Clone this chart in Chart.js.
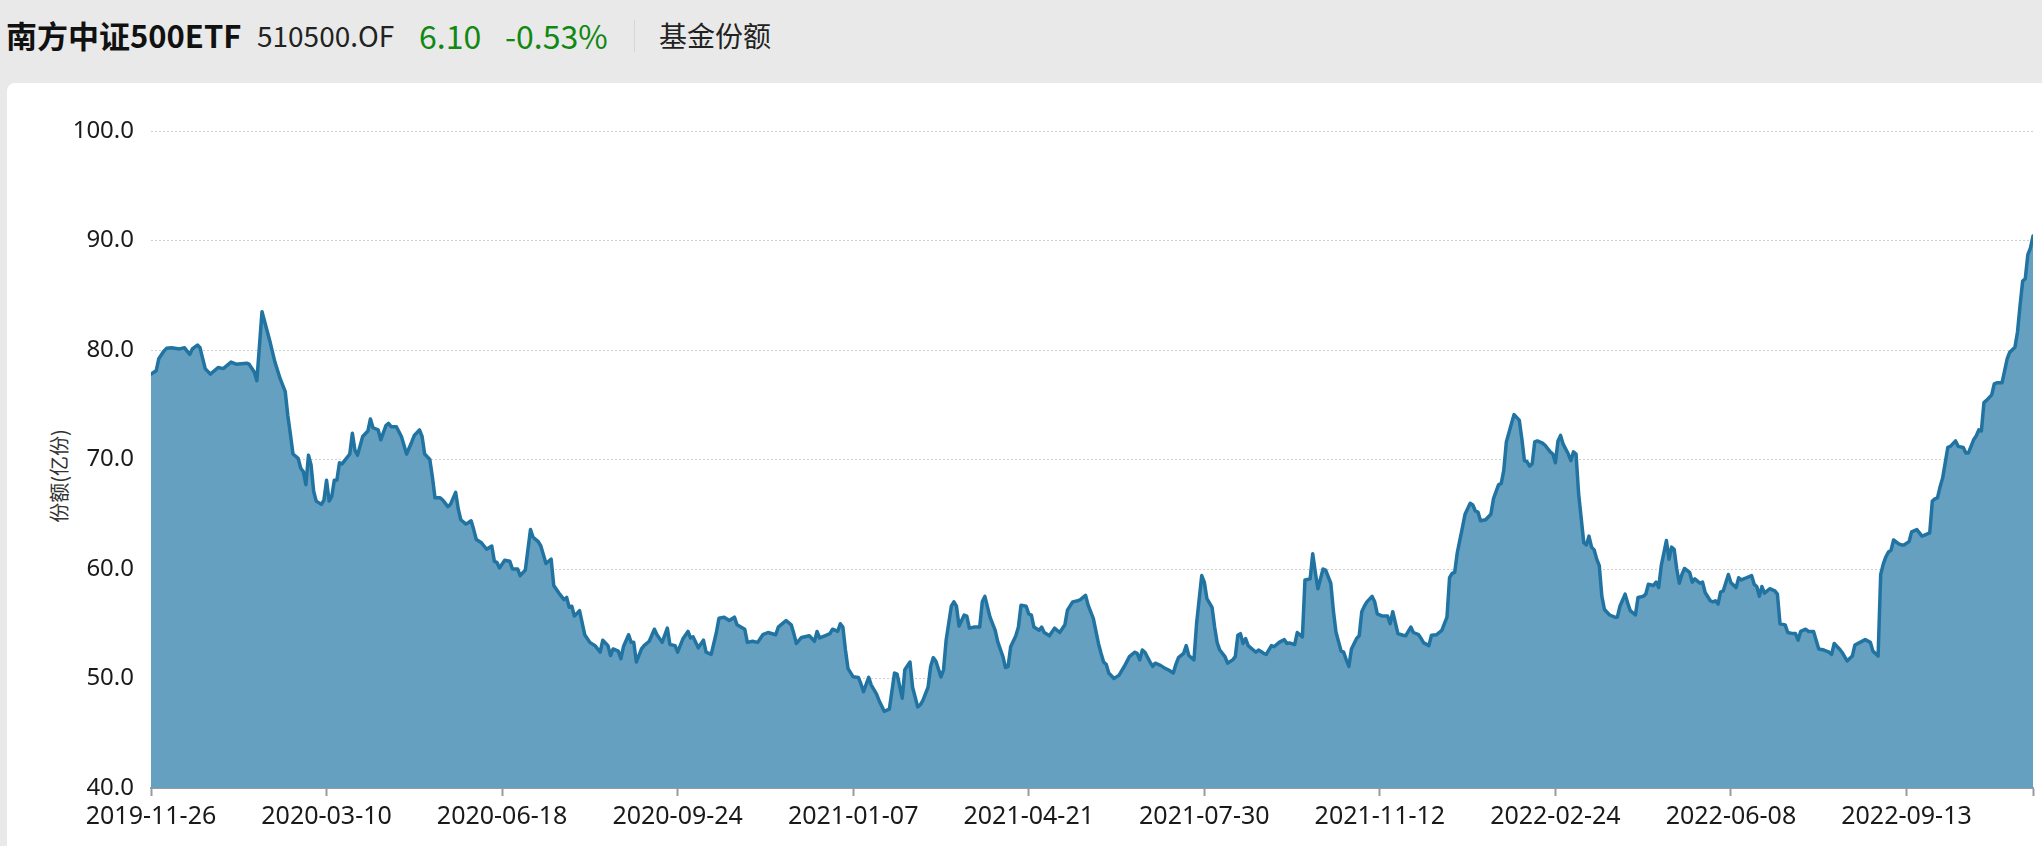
<!DOCTYPE html>
<html>
<head>
<meta charset="utf-8">
<title>南方中证500ETF 基金份额</title>
<script src="https://cdn.jsdelivr.net/npm/chart.js@4"></script>
<style>
  html, body { margin: 0; padding: 0; }
  body { width: 2042px; height: 846px; background: #e9e9e9; position: relative; overflow: hidden;
         font-family: "Noto Sans CJK SC", "Noto Sans", sans-serif; }
  #hdr span { position: absolute; top: 0; height: 70px; line-height: 70px; white-space: nowrap; }
  .name { left: 6px; font-size: 31px; font-weight: bold; color: #111; }
  .code { left: 257px; font-size: 28px; color: #222; }
  .price { left: 419px; font-size: 32px; color: #118811; }
  .chg { left: 505px; font-size: 32px; color: #118811; }
  .sep { left: 634px; top: 20px !important; height: 32px !important; width: 1px; background: #d6d6d6; }
  .tab { left: 659px; font-size: 28px; color: #222; }
  #card { position: absolute; left: 7px; top: 83px; right: 0; bottom: 0; background: #fff; border-top-left-radius: 8px; }
  #ytitle { position: absolute; left: 58px; top: 476px; transform: translate(-50%, -50%) rotate(-90deg);
            font-size: 20px; color: #333; white-space: nowrap; }
  #chart { position: absolute; left: 0; top: 0; }
</style>
</head>
<body>
<div id="hdr">
  <span class="name">南方中证500ETF</span>
  <span class="code">510500.OF</span>
  <span class="price">6.10</span>
  <span class="chg">-0.53%</span>
  <span class="sep"></span>
  <span class="tab">基金份额</span>
</div>
<div id="card"></div>
<div id="ytitle">份额(亿份)</div>
<canvas id="chart" width="2042" height="846"></canvas>
<script>
// labelled dates on the x axis, one every 68 trading days
const tickLabels = ['2019-11-26', '2020-03-10', '2020-06-18', '2020-09-24', '2021-01-07', '2021-04-21',
                    '2021-07-30', '2021-11-12', '2022-02-24', '2022-06-08', '2022-09-13'];
const tickStep = 68;
const lastDay = 729; // 2022-11-28

// trading day (counted from 2019-11-26) of each reading
const dayIndex = [
  0, 2, 3, 5, 6, 8, 11, 13, 15, 16, 18, 19, 21, 23, 26, 28, 31, 33, 37, 38, 40, 41, 43, 46, 48, 50, 52, 53, 54, 55,
  57, 58, 59, 60, 61, 62, 63, 64, 66, 67, 68, 69, 70, 71, 72, 73, 74, 75, 77, 78, 79, 80, 82, 84, 85, 86, 88, 89, 91, 92,
  93, 95, 97, 99, 101, 102, 104, 105, 106, 108, 109, 110, 112, 113, 115, 116, 118, 119, 120, 122, 124, 125, 126, 128,
  130, 132, 133, 134, 135, 137, 139, 140, 142, 143, 145, 147, 148, 150, 151, 153, 155, 156, 158, 160, 161, 162, 163, 164,
  166, 168, 170, 172, 174, 175, 177, 178, 179, 181, 182, 183, 185, 186, 187, 188, 190, 191, 193, 195, 196, 198, 200, 201,
  203, 204, 206, 208, 209, 210, 212, 214, 215, 217, 219, 220, 222, 224, 226, 227, 230, 231, 233, 235, 237, 239, 242, 243,
  244, 246, 248, 249, 250, 252, 255, 257, 258, 259, 261, 263, 264, 266, 267, 268, 269, 270, 272, 274, 275, 276, 278, 279,
  281, 282, 284, 286, 288, 289, 291, 292, 294, 295, 297, 298, 299, 301, 302, 303, 304, 306, 307, 308, 310, 311, 312, 313,
  315, 316, 317, 319, 321, 322, 323, 325, 327, 328, 330, 331, 332, 333, 335, 336, 337, 339, 340, 341, 342, 344, 345, 346,
  348, 350, 352, 354, 355, 357, 359, 360, 362, 363, 365, 367, 368, 369, 370, 371, 373, 374, 375, 377, 379, 381, 382, 383,
  384, 385, 387, 388, 389, 391, 393, 394, 396, 397, 398, 400, 401, 402, 404, 405, 407, 408, 409, 411, 412, 413, 414, 416,
  417, 419, 420, 421, 422, 423, 424, 425, 426, 428, 429, 431, 432, 434, 435, 437, 439, 440, 441, 443, 444, 446, 447, 449,
  450, 451, 452, 454, 455, 457, 458, 459, 461, 462, 463, 464, 465, 467, 468, 469, 470, 471, 473, 474, 475, 477, 479, 480,
  481, 483, 485, 486, 488, 489, 491, 492, 493, 495, 496, 498, 499, 500, 502, 503, 504, 505, 506, 508, 509, 511, 512, 513,
  514, 515, 517, 519, 520, 522, 523, 524, 525, 527, 528, 530, 531, 532, 533, 534, 535, 536, 537, 539, 540, 542, 543, 544,
  545, 546, 547, 549, 550, 551, 552, 553, 555, 556, 557, 558, 559, 560, 561, 562, 563, 565, 567, 568, 569, 571, 572, 573,
  575, 576, 578, 579, 580, 582, 583, 584, 585, 587, 588, 589, 590, 591, 592, 593, 594, 596, 597, 598, 600, 601, 602, 604,
  605, 606, 607, 608, 609, 611, 612, 614, 615, 616, 618, 620, 621, 622, 623, 624, 625, 627, 629, 630, 631, 633, 634, 636,
  637, 638, 639, 641, 642, 644, 645, 646, 648, 650, 651, 652, 654, 655, 657, 659, 660, 662, 664, 666, 667, 669, 670, 671,
  672, 673, 674, 675, 677, 678, 679, 681, 682, 684, 686, 687, 689, 690, 691, 692, 693, 694, 695, 696, 697, 699, 700, 702,
  703, 704, 706, 707, 708, 709, 710, 711, 713, 714, 715, 717, 718, 719, 720, 722, 723, 724, 725, 726, 727, 728, 729
];

// fund shares, 亿份
const shares = [
  77.8, 78.1, 79.2, 79.9, 80.15, 80.2, 80.1, 80.2, 79.6, 80.1, 80.45, 80.2, 78.3, 77.8, 78.4, 78.3, 78.9, 78.7, 78.8, 78.7,
  78.0, 77.2, 83.5, 80.85, 78.9, 77.4, 76.2, 74.0, 72.3, 70.5,
  70.1, 69.2, 68.9, 67.7, 70.4, 69.5, 67.1, 66.2, 65.9, 66.3, 68.1, 66.2, 66.6, 68.1, 68.1, 69.7, 69.6, 69.9, 70.5, 72.4,
  70.85, 70.4, 72.1, 72.6, 73.7, 72.9, 72.7, 71.8, 73.1, 73.3,
  73.0, 73.0, 72.1, 70.5, 71.6, 72.2, 72.7, 72.1, 70.5, 70.0, 68.4, 66.5, 66.5, 66.3, 65.7, 65.9, 67.0, 65.5, 64.5, 64.1,
  64.4, 63.6, 62.7, 62.4,
  61.8, 62.1, 60.7, 60.6, 60.1, 60.8, 60.7, 60.0, 60.0, 59.4, 59.9, 63.6, 62.9, 62.5, 62.1, 60.5, 60.9, 58.5, 57.8, 57.2,
  57.4, 56.5, 56.6, 55.7,
  56.2, 54.0, 53.3, 53.0, 52.4, 53.5, 53.0, 52.1, 52.7, 52.5, 51.8, 52.9, 54.0, 53.3, 53.3, 51.5, 52.7, 53.0, 53.4, 54.5,
  54.0, 53.3, 54.6, 53.1,
  53.0, 52.4, 53.6, 54.3, 53.7, 53.8, 52.8, 53.5, 52.4, 52.2, 54.2, 55.5, 55.6, 55.3, 55.6, 54.9, 54.5, 53.3, 53.4, 53.3,
  54.0, 54.2, 54.0, 54.7,
  54.9, 55.3, 54.9, 54.1, 53.2, 53.75, 53.9, 53.4, 54.3, 53.7, 53.9, 54.1, 54.5, 54.3, 55.0, 54.7, 52.6, 50.9, 50.15, 50.1,
  49.5, 48.8, 50.1, 49.4,
  48.6, 48.0, 47.0, 47.2, 50.5, 50.4, 48.2, 50.8, 51.5, 49.2, 47.4, 47.6, 48.0, 49.2, 51.1, 51.9, 51.6, 50.15, 50.8, 53.5,
  56.6, 57.0, 56.6, 54.8,
  55.8, 55.7, 54.6, 54.7, 54.7, 57.0, 57.5, 55.6, 54.4, 53.35, 52.0, 51.0, 51.1, 52.9, 53.9, 54.7, 56.7, 56.6, 55.9, 55.8,
  54.7, 54.4, 54.7, 54.2,
  53.9, 54.6, 54.2, 54.9, 56.25, 57.0, 57.1, 57.2, 57.6, 56.7, 55.5, 53.2, 52.3, 51.5, 51.3, 50.5, 50.0, 50.15, 50.3, 51.1,
  52.0, 52.4, 52.3, 51.7,
  52.6, 52.4, 51.5, 51.1, 51.4, 51.2, 50.9, 50.8, 50.5, 51.3, 51.9, 52.3, 53.0, 52.1, 51.7, 55.0, 59.4, 58.8, 57.3, 56.5,
  54.7, 53.25, 52.6, 52.0,
  51.4, 51.7, 52.0, 53.95, 54.1, 53.2, 53.65, 53.0, 52.8, 52.4, 52.6, 52.3, 52.2, 53.0, 52.9, 53.3, 53.55, 53.2, 53.25, 53.1,
  54.2, 53.8, 59.0, 59.1,
  61.4, 59.7, 58.2, 60.0, 59.9, 58.7, 56.2, 54.25, 52.5, 52.4, 51.7, 51.1, 52.7, 53.65, 53.9, 56.1, 56.6, 57.0, 57.5, 57.0,
  55.9, 55.7, 55.7, 55.0,
  56.1, 54.1, 53.95, 53.9, 54.7, 54.2, 54.0, 53.65, 53.25, 53.0, 53.95, 54.0, 54.2, 54.4, 55.6, 59.2, 59.6, 59.7, 61.5, 63.8,
  65.0, 66.0, 65.85, 65.3,
  65.2, 64.4, 64.5, 65.0, 66.4, 67.7, 67.8, 69.0, 71.6, 73.3, 74.1, 73.6, 71.9, 69.9, 69.8, 69.4, 69.6, 71.6, 71.7, 71.5,
  71.3, 70.7, 70.5, 69.7,
  71.7, 72.2, 71.4, 70.5, 69.9, 70.7, 70.5, 66.85, 62.4, 62.2, 63.0, 62.0, 61.75, 60.9, 60.3, 57.5, 56.3, 55.8, 55.6, 55.6,
  56.6, 57.7, 56.9, 56.2,
  55.8, 57.4, 57.5, 57.7, 58.6, 58.5, 58.8, 58.3, 60.3, 62.6, 60.9, 62.0, 61.8, 60.0, 58.7, 59.5, 60.05, 59.7, 58.8, 59.1,
  58.7, 58.8, 57.85, 57.1,
  57.0, 57.1, 56.8, 57.9, 58.0, 59.5, 58.75, 58.3, 59.2, 59.0, 59.2, 59.4, 58.6, 58.4, 57.5, 58.4, 57.8, 58.2, 58.0, 57.7,
  55.0, 54.9, 54.2, 54.1,
  54.1, 53.5, 54.3, 54.5, 54.3, 54.3, 53.5, 52.7, 52.6, 52.4, 52.2, 53.2, 52.7, 52.4, 51.6, 52.05, 53.05, 53.3, 53.55, 53.3,
  52.5, 52.05, 59.5, 60.45,
  61.1, 61.55, 61.7, 62.65, 62.3, 62.2, 62.2, 62.5, 63.4, 63.6, 63.0, 63.1, 63.3, 66.2, 66.4, 66.5, 67.5, 68.3, 69.7, 71.1,
  71.2, 71.7, 71.2, 71.1,
  70.6, 70.6, 71.8, 72.15, 72.7, 72.6, 75.2, 75.4, 75.9, 76.9, 77.0, 77.0, 78.1, 79.2, 79.8, 80.25, 81.65, 84.1, 86.3, 86.5,
  88.7, 89.3, 90.4
];

const yTicks = [40, 50, 60, 70, 80, 90, 100];

const points = dayIndex.map((d, i) => ({ x: d, y: shares[i] }));

new Chart(document.getElementById('chart'), {
  type: 'line',
  data: {
    datasets: [{
      label: '份额(亿份)',
      data: points,
      borderColor: '#2173a2',
      borderWidth: 3.5,
      borderJoinStyle: 'round',
      borderCapStyle: 'round',
      backgroundColor: '#66a0c1',
      fill: 'start',
      pointRadius: 0,
      tension: 0
    }]
  },
  options: {
    responsive: false,
    animation: false,
    layout: { padding: { top: 131, right: 9, left: 0, bottom: 0 } },
    plugins: { legend: { display: false }, tooltip: { enabled: false } },
    scales: {
      x: {
        type: 'linear',
        min: 0,
        max: lastDay,
        afterBuildTicks: s => {
          s.ticks = tickLabels.map((_, i) => ({ value: i * tickStep })).concat([{ value: lastDay }]);
        },
        afterFit: s => { s.height = 58; },
        border: { display: true, color: '#9a9a9a', width: 2 },
        grid: { drawOnChartArea: false, drawTicks: true, tickLength: 8, tickColor: '#9a9a9a', tickWidth: 2 },
        ticks: {
          autoSkip: false,
          maxRotation: 0,
          padding: 6,
          color: '#1a1a1a',
          font: { family: 'Noto Sans', size: 25 },
          callback: v => {
            const i = v / tickStep;
            return Number.isInteger(i) && tickLabels[i] ? tickLabels[i] : '';
          }
        }
      },
      y: {
        min: 40,
        max: 100,
        afterBuildTicks: s => { s.ticks = yTicks.map(v => ({ value: v })); },
        afterFit: s => { s.width = 151; },
        border: { display: false, dash: [2, 2] },
        grid: {
          drawTicks: false,
          lineWidth: 1,
          color: c => (c.tick && c.tick.value === 40) ? 'rgba(0,0,0,0)' : '#cfcfcf'
        },
        ticks: {
          padding: 17,
          color: '#1a1a1a',
          font: { family: 'Noto Sans', size: 24 },
          callback: v => v.toFixed(1)
        }
      }
    }
  }
});
</script>
</body>
</html>
